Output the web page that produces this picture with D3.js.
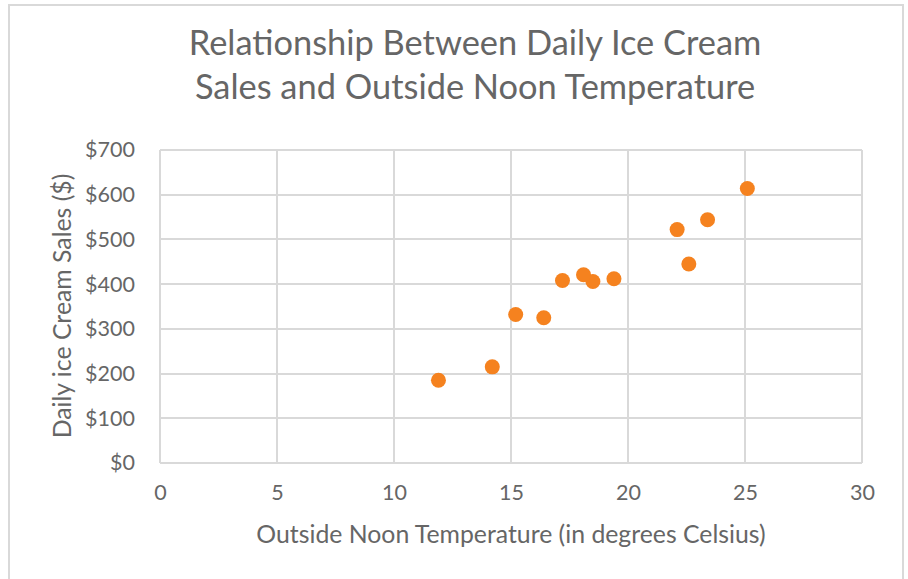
<!DOCTYPE html>
<html>
<head>
<meta charset="utf-8">
<title>Ice cream sales vs temperature</title>
<style>
body { margin: 0; background: #ffffff; }
svg text { font-family: Lato, 'Open Sans', sans-serif; fill: #666666; }
.grid line { stroke: #d9d9d9; stroke-width: 2px; shape-rendering: crispEdges; }
.axis path, .axis line { display: none; }
</style>
</head>
<body>
<script src="https://d3js.org/d3.v7.min.js"></script>
<script>
'use strict';
// data
const titleLines = ['Relationship Between Daily Ice Cream', 'Sales and Outside Noon Temperature'];
const temperature = [14.2, 16.4, 11.9, 15.2, 18.5, 22.1, 19.4, 25.1, 23.4, 18.1, 22.6, 17.2];
const sales = [215, 325, 185, 332, 406, 522, 412, 614, 544, 421, 445, 408];
const xTicks = [0, 5, 10, 15, 20, 25, 30];
const yTicks = [0, 100, 200, 300, 400, 500, 600, 700];

const W = 908, H = 579;
const plot = {left: 160, right: 862, top: 150, bottom: 463};

const svg = d3.select('body').append('svg')
	.attr('width', W)
	.attr('height', H);

// chart frame
svg.append('rect')
	.attr('x', 9).attr('y', 5)
	.attr('width', 894).attr('height', H)
	.attr('fill', 'none')
	.attr('stroke', '#d9d9d9')
	.attr('stroke-width', 2);

const x = d3.scaleLinear().domain([0, 30]).range([plot.left, plot.right]);
const y = d3.scaleLinear().domain([0, 700]).range([plot.bottom, plot.top]);

// gridlines
const grid = svg.append('g').attr('class', 'grid');
grid.selectAll('.gy').data(yTicks).enter().append('line')
	.attr('x1', plot.left).attr('x2', plot.right)
	.attr('y1', d => y(d)).attr('y2', d => y(d));
grid.selectAll('.gx').data(xTicks).enter().append('line')
	.attr('y1', plot.top).attr('y2', plot.bottom)
	.attr('x1', d => x(d)).attr('x2', d => x(d));

// axes (labels only)
svg.append('g')
	.attr('class', 'axis')
	.attr('transform', 'translate(0,' + plot.bottom + ')')
	.call(d3.axisBottom(x).tickValues(xTicks).tickSize(0).tickPadding(22))
	.selectAll('text')
	.style('font-size', '21.5px');

svg.append('g')
	.attr('class', 'axis')
	.attr('transform', 'translate(' + plot.left + ',0)')
	.call(d3.axisLeft(y).tickValues(yTicks).tickSize(0).tickPadding(25)
		.tickFormat(d => '$' + d))
	.selectAll('text')
	.style('font-size', '21.5px');

svg.selectAll('.axis text').attr('fill', '#666666');

// points
svg.append('g').selectAll('circle')
	.data(temperature)
	.enter().append('circle')
	.attr('cx', d => x(d))
	.attr('cy', (d, i) => y(sales[i]))
	.attr('r', 7.5)
	.attr('fill', '#f5821f');

// title
svg.append('g').selectAll('text')
	.data(titleLines)
	.enter().append('text')
	.attr('x', 475)
	.attr('y', (d, i) => 55 + i * 44)
	.attr('text-anchor', 'middle')
	.style('font-size', '34.4px')
	.text(d => d);

// axis titles
svg.append('text')
	.attr('x', 511).attr('y', 543)
	.attr('text-anchor', 'middle')
	.style('font-size', '24.8px')
	.text('Outside Noon Temperature (in degrees Celsius)');

svg.append('text')
	.attr('transform', 'translate(71,306) rotate(-90)')
	.attr('text-anchor', 'middle')
	.style('font-size', '24.8px')
	.text('Daily ice Cream Sales ($)');
</script>
</body>
</html>
